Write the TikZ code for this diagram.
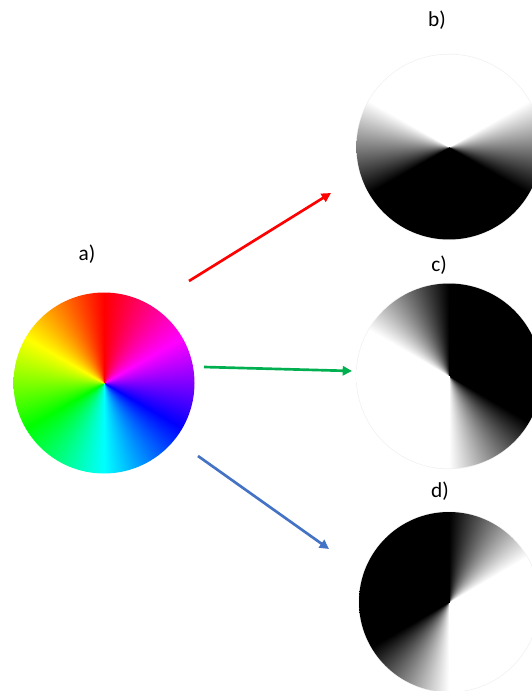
\documentclass[tikz,border=0pt]{standalone}
\usepackage{fontspec}
\setmainfont{Carlito}
\usetikzlibrary{arrows.meta}
\definecolor{arrred}{RGB}{255,0,0}
\definecolor{arrgreen}{RGB}{0,176,80}
\definecolor{arrblue}{RGB}{68,114,196}
% colour wheel: hue from the angle, red at the top, hue rising anticlockwise
\pgfdeclarefunctionalshading{huewheel}{\pgfpoint{-50bp}{-50bp}}{\pgfpoint{50bp}{50bp}}{}{
  exch 0.0001 add atan 270 add dup 360 ge {360 sub} if
  dup
  dup 360 exch sub 2 copy gt {exch} if pop 120 exch sub 60 div dup 1 gt {pop 1} if dup 0 lt {pop 0} if
  exch
  dup 240 add dup 360 ge {360 sub} if
  dup 360 exch sub 2 copy gt {exch} if pop 120 exch sub 60 div dup 1 gt {pop 1} if dup 0 lt {pop 0} if
  exch
  120 add dup 360 ge {360 sub} if
  dup 360 exch sub 2 copy gt {exch} if pop 120 exch sub 60 div dup 1 gt {pop 1} if dup 0 lt {pop 0} if
}
% red channel
\pgfdeclarefunctionalshading{redchan}{\pgfpoint{-50bp}{-50bp}}{\pgfpoint{50bp}{50bp}}{}{
  exch 0.0001 add atan 270 add dup 360 ge {360 sub} if
  dup 360 exch sub 2 copy gt {exch} if pop 120 exch sub 60 div dup 1 gt {pop 1} if dup 0 lt {pop 0} if
  dup dup
}
% green channel
\pgfdeclarefunctionalshading{greenchan}{\pgfpoint{-50bp}{-50bp}}{\pgfpoint{50bp}{50bp}}{}{
  exch 0.0001 add atan 150 add dup 360 ge {360 sub} if
  dup 360 exch sub 2 copy gt {exch} if pop 120 exch sub 60 div dup 1 gt {pop 1} if dup 0 lt {pop 0} if
  dup dup
}
% blue channel
\pgfdeclarefunctionalshading{bluechan}{\pgfpoint{-50bp}{-50bp}}{\pgfpoint{50bp}{50bp}}{}{
  exch 0.0001 add atan 30 add dup 360 ge {360 sub} if
  dup 360 exch sub 2 copy gt {exch} if pop 120 exch sub 60 div dup 1 gt {pop 1} if dup 0 lt {pop 0} if
  dup dup
}
\begin{document}
\begin{tikzpicture}[x=0.75pt,y=-0.75pt,
  arr/.style={line width=2pt,-{Triangle[length=7pt,width=7pt]}},
  lab/.style={font=\fontsize{16}{19}\selectfont,inner sep=0pt},
  rim/.style={fill=black!6}]
\useasboundingbox (0,0) rectangle (531,691);
% colour wheel a)
\shade[shading=huewheel] (104,383) circle (90.5);
% channel circles b) c) d)
\fill[rim] (449,147) circle (93.2);
\shade[shading=redchan] (449,147) circle (92.5);
\fill[rim] (449,376) circle (93.2);
\shade[shading=greenchan] (449,376) circle (92.5);
\fill[rim] (449,602) circle (90.7);
\shade[shading=bluechan] (449,602) circle (90);
% labels
\node[lab] (la) at (87,254) {a)};
\node[lab] (lb) at (437,20) {b)};
\node[lab] (lc) at (439,265) {c)};
\node[lab] (ld) at (440,491) {d)};
% arrows
\coordinate (rs) at (189,281);
\coordinate (re) at (331,193);
\coordinate (gs) at (204,367);
\coordinate (ge) at (352,371);
\coordinate (bs) at (198,456);
\coordinate (be) at (329,549);
\draw[arr,arrred] (rs) -- (re);
\draw[arr,arrgreen] (gs) -- (ge);
\draw[arr,arrblue] (bs) -- (be);
\end{tikzpicture}
\end{document}
